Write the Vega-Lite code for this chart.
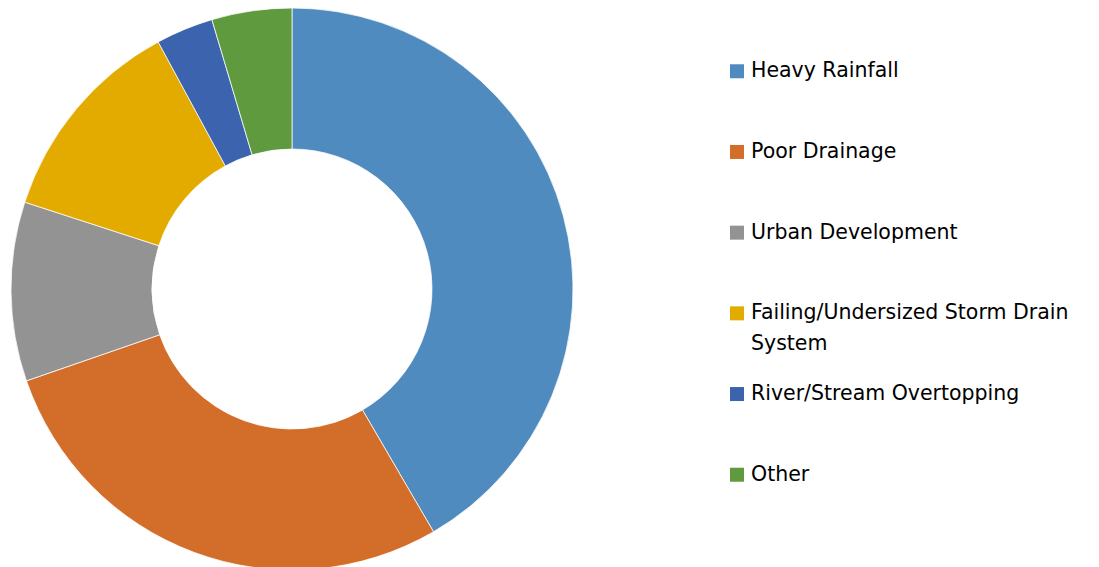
{
  "$schema": "https://vega.github.io/schema/vega-lite/v6.json",
  "padding": {"left": 0, "top": 6, "right": 0, "bottom": 0},
  "background": "white",
  "config": {"view": {"stroke": null}, "concat": {"spacing": 0}},
  "data": {
    "values": [
      {"cause": "Heavy Rainfall", "label": "Heavy Rainfall", "pct": 41.6, "rank": 1},
      {"cause": "Poor Drainage", "label": "Poor Drainage", "pct": 28.1, "rank": 2},
      {"cause": "Urban Development", "label": "Urban Development", "pct": 10.3, "rank": 3},
      {"cause": "Failing/Undersized Storm Drain System", "label": "Failing/Undersized Storm Drain\nSystem", "pct": 12.1, "rank": 4},
      {"cause": "River/Stream Overtopping", "label": "River/Stream Overtopping", "pct": 3.3, "rank": 5},
      {"cause": "Other", "label": "Other", "pct": 4.6, "rank": 6}
    ]
  },
  "hconcat": [
    {
      "width": 584,
      "height": 562,
      "mark": {"type": "arc", "outerRadius": 281, "innerRadius": 140, "stroke": "white", "strokeWidth": 0.75},
      "encoding": {
        "theta": {"field": "pct", "type": "quantitative", "stack": true},
        "order": {"field": "rank", "type": "quantitative", "sort": "ascending"},
        "color": {
          "field": "cause",
          "type": "nominal",
          "legend": null,
          "scale": {
            "domain": ["Heavy Rainfall", "Poor Drainage", "Urban Development", "Failing/Undersized Storm Drain System", "River/Stream Overtopping", "Other"],
            "range": ["#4F8BBE", "#D36E2A", "#939393", "#E3AB00", "#3C63AE", "#5F9A3F"]
          }
        }
      }
    },
    {
      "width": 306,
      "height": 530,
      "encoding": {
        "y": {
          "field": "cause",
          "type": "nominal",
          "axis": null,
          "scale": {
            "type": "point",
            "padding": 0.784,
            "domain": ["Heavy Rainfall", "Poor Drainage", "Urban Development", "Failing/Undersized Storm Drain System", "River/Stream Overtopping", "Other"]
          }
        }
      },
      "layer": [
        {
          "mark": {"type": "point", "shape": "square", "filled": true, "size": 196, "opacity": 1},
          "encoding": {
            "color": {"field": "cause", "type": "nominal", "legend": null}
          }
        },
        {
          "mark": {"type": "text", "align": "left", "baseline": "middle", "dx": 14, "font": "DejaVu Sans", "fontSize": 20.5, "lineBreak": "\n", "lineHeight": 31, "color": "#000000"},
          "encoding": {
            "text": {"field": "label", "type": "nominal"}
          }
        }
      ]
    }
  ]
}
